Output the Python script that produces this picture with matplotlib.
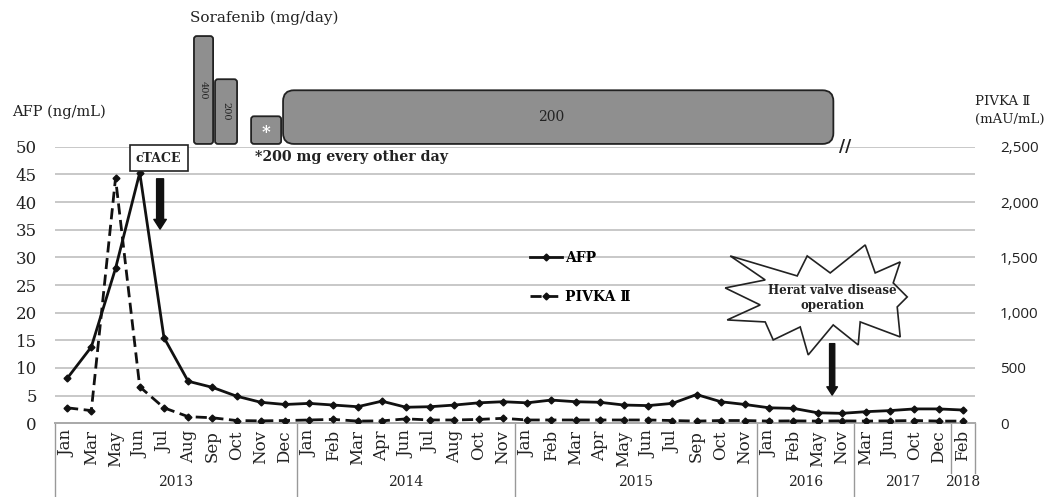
import numpy as np
import matplotlib
matplotlib.use('Agg')
import matplotlib.pyplot as plt
from matplotlib.patches import FancyBboxPatch, Polygon
from matplotlib.lines import Line2D
import matplotlib.transforms as mtransforms

plt.rcParams['font.family'] = ['DejaVu Serif', 'DejaVu Sans']

# data
months = ['Jan', 'Mar', 'May', 'Jun', 'Jul', 'Aug', 'Sep', 'Oct', 'Nov', 'Dec',
          'Jan', 'Feb', 'Mar', 'Apr', 'Jun', 'Jul', 'Aug', 'Oct', 'Nov',
          'Jan', 'Feb', 'Mar', 'Apr', 'May', 'Jun', 'Jul', 'Sep', 'Oct', 'Nov',
          'Jan', 'Feb', 'May', 'Nov',
          'Mar', 'Jun', 'Oct', 'Dec',
          'Feb']
years = ['2013', '2014', '2015', '2016', '2017', '2018']
year_counts = [10, 9, 10, 4, 4, 1]

afp = [8.1, 13.8, 28.0, 45.3, 15.5, 7.6, 6.5, 4.9, 3.8, 3.4,
       3.6, 3.3, 3.0, 4.0, 2.9, 3.0, 3.3, 3.7, 3.9,
       3.7, 4.2, 3.9, 3.8, 3.3, 3.2, 3.6, 5.2, 3.9, 3.4,
       2.8, 2.7, 1.9, 1.8,
       2.1, 2.3, 2.6, 2.6,
       2.4]
pivka = [140, 115, 2215, 330, 140, 60, 50, 25, 22, 25,
         30, 35, 20, 22, 40, 30, 30, 35, 45,
         30, 30, 30, 30, 30, 30, 25, 20, 25, 25,
         20, 22, 20, 22,
         20, 22, 25, 20,
         20]

# sorafenib schedule (x in category positions, heights in AFP units)
sora_labels = ['400', '200', '*', '200']
sora_start = [5.24, 6.11, 7.6, 8.92]
sora_end = [6.03, 7.02, 8.84, 31.65]
sora_top = [70.0, 62.2, 55.5, 60.2]
sora_base = 50.5

x = np.arange(len(months))

fig = plt.figure(figsize=(10.49, 4.97), dpi=100)
ax = fig.add_axes([55 / 1049, 73.7 / 497, 920 / 1049, 276.6 / 497])
ax2 = ax.twinx()

ax.set_xlim(-0.5, len(months) - 0.5)
ax.set_ylim(0, 50)
ax2.set_ylim(0, 2500)

ax.set_yticks(range(0, 51, 5))
ax2.set_yticks(range(0, 2501, 500))
ax2.set_yticklabels([f'{v:,}' for v in range(0, 2501, 500)])
ax.yaxis.grid(True, color='#c8c8c8', lw=1.4)
ax.set_axisbelow(True)

for a in (ax, ax2):
    for s in ['top', 'left', 'right']:
        a.spines[s].set_visible(False)
    a.spines['bottom'].set_color('#aaaaaa')
    a.spines['bottom'].set_linewidth(1.4)
ax.tick_params(axis='y', length=0, pad=13, labelsize=12, labelcolor='#222222')
ax2.tick_params(axis='y', length=0, pad=18, labelsize=11, labelcolor='#222222')
for t in ax2.get_yticklabels():
    t.set_family('Open Sans')

ax.set_xticks(x)
ax.set_xticklabels(months, rotation=90, fontsize=12, color='#222222')
ax.tick_params(axis='x', length=0, pad=5)

ax.plot(x, afp, color='#111111', lw=2, marker='D', ms=3.5, zorder=3)
ax2.plot(x, pivka, color='#111111', lw=2, dashes=(4, 2), marker='D', ms=3.5, zorder=3)

# year groups below the axis
blend = mtransforms.blended_transform_factory(ax.transData, ax.transAxes)
edges = np.concatenate([[0], np.cumsum(year_counts)]) - 0.5
for i, yr in enumerate(years):
    ax.text((edges[i] + edges[i + 1]) / 2, -0.212, yr, transform=blend,
            ha='center', va='center', fontsize=10, color='#222222')
for i, b in enumerate(edges):
    low = -0.18 if i >= len(years) - 1 else -0.27
    ax.plot([b, b], [0, low], transform=blend, color='#999999', lw=1, clip_on=False)

# sorafenib boxes
for i, lab in enumerate(sora_labels):
    r = 0.45 if i == 3 else 0.12
    box = FancyBboxPatch((sora_start[i], sora_base), sora_end[i] - sora_start[i],
                         sora_top[i] - sora_base,
                         boxstyle=f'round,pad=0,rounding_size={r}', mutation_aspect=4.37,
                         fc='#8f8f8f', ec='#222222', lw=1.3,
                         transform=ax.transData, clip_on=False, zorder=5)
    ax2.add_patch(box)
    cx = (sora_start[i] + sora_end[i]) / 2
    cy = (sora_top[i] + sora_base) / 2
    if i < 2:
        ax2.text(cx, cy, lab, transform=ax.transData, rotation=270, ha='center', va='center',
                 fontsize=7, color='#222222', zorder=6)
    elif i == 2:
        ax2.text(cx, cy - 0.5, lab, transform=ax.transData, ha='center', va='center',
                 fontsize=12, color='white', fontweight='bold', zorder=6)
    else:
        ax2.text(cx - 0.3, cy, lab, transform=ax.transData, ha='center', va='center',
                 fontsize=10, color='#222222', zorder=6)

ax2.text(5.08, 73.3, 'Sorafenib (mg/day)', transform=ax.transData, ha='left', va='center',
         fontsize=11, color='#222222')
ax2.text(7.76, 48.1, '*200 mg every other day', transform=ax.transData, ha='left',
         va='center', fontsize=10.2, fontweight='bold', color='#222222')
ax2.text(32.15, 50, '//', transform=ax.transData, ha='center', va='center',
         fontsize=12, fontweight='bold', color='#222222', zorder=6)

# cTACE
ax2.text(3.78, 47.95, 'cTACE', transform=ax.transData, ha='center', va='center',
         fontsize=9, fontweight='bold', color='#222222', zorder=6,
         bbox=dict(boxstyle='square,pad=0.5', fc='white', ec='#222222', lw=1.2))
ax2.annotate('', xy=(3.84, 34.6), xytext=(3.84, 44.7), xycoords=ax.transData,
             textcoords=ax.transData,
             arrowprops=dict(arrowstyle='simple,head_length=0.35,head_width=0.45,tail_width=0.25',
                             mutation_scale=20, fc='#111111', ec='#111111'))

# heart valve operation starburst
star_dx = [-85, -18, -8, 15, 50, 60, 85, 78, 92, 82, 85, 45, 43, 18, -7, -15, -42, -50, -88, -55, -90, -50]
star_dy = [44, 24, 44, 27, 55, 27, 38, 17, 3, -7, -37, -22, -45, -25, -55, -27, -40, -22, -20, -5, 12, 20]
px_x = ax.bbox.width / len(months)
px_y = ax.bbox.height / 50
scx, scy = 30.9, 22.3
verts = [(scx + dx / px_x, scy + dy / px_y) for dx, dy in zip(star_dx, star_dy)]
ax2.add_patch(Polygon(verts, closed=True, fc='none', ec='#222222', lw=1.2,
                      transform=ax.transData, zorder=5))
ax2.text(scx + 0.7, scy + 0.3, 'Herat valve disease\noperation', transform=ax.transData,
         ha='center', va='center', fontsize=8.5, fontweight='bold', color='#222222',
         linespacing=1.2, zorder=6)
ax2.annotate('', xy=(31.6, 4.6), xytext=(31.6, 14.9), xycoords=ax.transData,
             textcoords=ax.transData,
             arrowprops=dict(arrowstyle='simple,head_length=0.35,head_width=0.45,tail_width=0.22',
                             mutation_scale=17, fc='#111111', ec='#111111'))

# legend
handles = [Line2D([], [], color='#111111', lw=2, marker='D', ms=3.5),
           Line2D([], [], color='#111111', lw=2, dashes=(4, 2), marker='D', ms=3.5)]
ax2.legend(handles, ['AFP', 'PIVKA \u2161'], loc='upper left',
           bbox_to_anchor=(530 / 1049, 0.495), bbox_transform=fig.transFigure,
           frameon=False, handlelength=2.3, handletextpad=0.2, labelspacing=1.8,
           borderaxespad=0, borderpad=0, numpoints=1,
           prop={'size': 10, 'weight': 'bold'})

fig.text(12 / 1049, 0.775, 'AFP (ng/mL)', ha='left', va='center', fontsize=10.5,
         color='#222222')
fig.text(975 / 1049, 0.777, 'PIVKA \u2161\n(mAU/mL)', ha='left', va='center',
         fontsize=9.5, color='#222222', linespacing=1.5)

fig.savefig('out.png', dpi=100)
